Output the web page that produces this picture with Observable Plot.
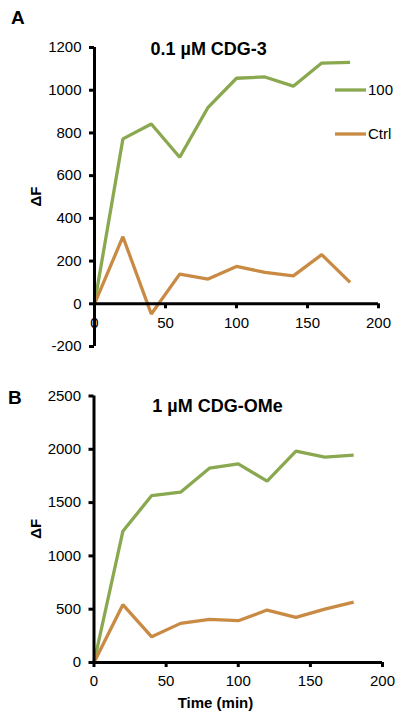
<!DOCTYPE html>
<html><head><meta charset="utf-8">
<script src="https://cdn.jsdelivr.net/npm/d3@7"></script>
<script src="https://cdn.jsdelivr.net/npm/@observablehq/plot@0.6"></script>
<style>
body{margin:0;background:#fff;}
#root{position:relative;width:403px;height:721px;font-family:"Liberation Sans",Arial,sans-serif;}
#root > svg{position:absolute;left:0;}
</style></head><body><div id="root"></div>
<script>
const times = [0, 20, 40, 60, 80, 100, 120, 140, 160, 180];
const a100  = [0, 772, 842, 686, 920, 1056, 1062, 1019, 1127, 1130];
const aCtrl = [0, 314, -48, 139, 116, 175, 147, 131, 230, 100];
const b100  = [0, 1231, 1566, 1598, 1823, 1864, 1701, 1983, 1927, 1945];
const bCtrl = [0, 542, 241, 367, 404, 392, 492, 423, 501, 567];
const xTicks = [0, 50, 100, 150, 200];
const yTicksA = [-200, 0, 200, 400, 600, 800, 1000, 1200];
const yTicksB = [0, 500, 1000, 1500, 2000, 2500];
const seriesNames = ["100", "Ctrl"];
const colors = ["#8aa84f", "#c98a43"];
const panelLetters = ["A", "B"];
const panelTitles = ["0.1 µM CDG-3", "1 µM CDG-OMe"];
const yLabel = "ΔF";
const xLabel = "Time (min)";

const FONT = '"Liberation Sans", Arial, sans-serif';
const root = document.getElementById("root");

function panel({v100, vCtrl, yDomain, yTicks, height, mt, mb, ml, mr, atZero, pad}) {
  const rows = [];
  times.forEach((t, i) => {
    rows.push({t, v: v100[i], s: seriesNames[0]});
  });
  times.forEach((t, i) => {
    rows.push({t, v: vCtrl[i], s: seriesNames[1]});
  });
  const innerH = height - mt - mb;
  const dy = atZero ? -innerH * (0 - yDomain[0]) / (yDomain[1] - yDomain[0]) : 0;
  return Plot.plot({
    width: 403, height,
    marginTop: mt, marginBottom: mb, marginLeft: ml, marginRight: mr,
    style: {fontFamily: FONT, fontSize: "15px", color: "#000", background: "transparent", overflow: "visible"},
    x: {domain: [0, 200]},
    y: {domain: yDomain},
    color: {domain: seriesNames, range: colors},
    marks: [
      Plot.line(rows, {x: "t", y: "v", stroke: "s", strokeWidth: 3.3, strokeLinejoin: "miter", strokeLinecap: "butt"}),
      Plot.ruleY([0], {stroke: "#000", strokeWidth: 3}),
      Plot.ruleX([0], {stroke: "#000", strokeWidth: 3}),
      Plot.axisY({ticks: yTicks, tickSize: 5, tickPadding: 8, strokeWidth: 3, label: null, tickFormat: d => String(d)}),
      Plot.axisX({ticks: xTicks, tickSize: 5, tickPadding: pad, strokeWidth: 3, label: null, tickFormat: d => String(d), dy})
    ]
  });
}

const pA = panel({v100: a100, vCtrl: aCtrl, yDomain: [-200, 1200], yTicks: yTicksA, height: 360, mt: 47, mb: 14, ml: 94, mr: 25, atZero: true, pad: 9});
pA.style.top = "0px";
root.appendChild(pA);
const pB = panel({v100: b100, vCtrl: bCtrl, yDomain: [0, 2500], yTicks: yTicksB, height: 361, mt: 35.5, mb: 59, ml: 93.5, mr: 21, atZero: false, pad: 8});
pB.style.top = "360px";
root.appendChild(pB);

// overlay text: panel letters, titles, axis labels, legend
const svg = d3.select(root).append("svg")
  .attr("width", 403).attr("height", 721)
  .style("top", "0px").style("pointer-events", "none")
  .attr("font-family", FONT);

const letterPos = [[11, 23.5], [8, 403.5]];
const titlePos = [[208.7, 55], [217.5, 412]];
const yLabelPos = [[36, 196.5], [36, 528.7]];
panelLetters.forEach((L, i) => {
  svg.append("text").attr("x", letterPos[i][0]).attr("y", letterPos[i][1])
    .attr("font-size", 19).attr("font-weight", "bold").text(L);
  svg.append("text").attr("x", titlePos[i][0]).attr("y", titlePos[i][1])
    .attr("text-anchor", "middle").attr("font-size", 18).attr("font-weight", "bold").text(panelTitles[i]);
  svg.append("text").attr("transform", `translate(${yLabelPos[i][0]},${yLabelPos[i][1]}) rotate(-90)`)
    .attr("text-anchor", "middle").attr("dy", "0.35em")
    .attr("font-size", 15).attr("font-weight", "bold").text(yLabel);
});
svg.append("text").attr("x", 215.5).attr("y", 708).attr("text-anchor", "middle")
  .attr("font-size", 15).attr("font-weight", "bold").text(xLabel);

const legY = [90, 134];
seriesNames.forEach((s, i) => {
  svg.append("line").attr("x1", 335).attr("x2", 366).attr("y1", legY[i]).attr("y2", legY[i])
    .attr("stroke", colors[i]).attr("stroke-width", 3.3);
  svg.append("text").attr("x", 368).attr("y", legY[i]).attr("dy", "0.35em")
    .attr("font-size", 15).text(s);
});
</script></body></html>
